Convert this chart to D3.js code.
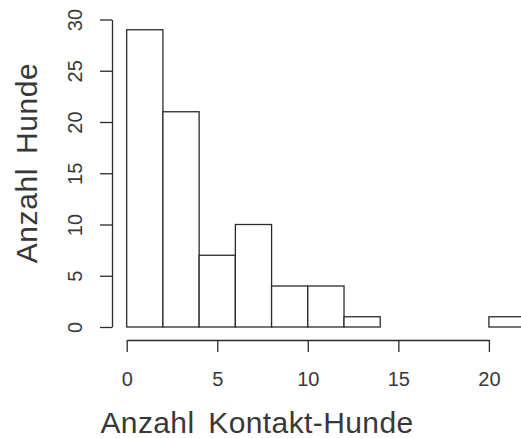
<!DOCTYPE html>
<html>
<head>
<meta charset="utf-8">
<script src="https://cdn.jsdelivr.net/npm/d3@7"></script>
<style>
  html, body { margin: 0; padding: 0; background: #fff; }
  svg { display: block; }
  text { font-family: "Liberation Sans", Arial, sans-serif; fill: #383838; }
</style>
</head>
<body>
<div id="chart"></div>
<script>
// histogram breaks (bin edges) and counts per bin
var breaks = [0, 2, 4, 6, 8, 10, 12, 14, 16, 18, 20, 22];
var counts = [29, 21, 7, 10, 4, 4, 1, 0, 0, 0, 1];
var xTicks = [0, 5, 10, 15, 20];
var yTicks = [0, 5, 10, 15, 20, 25, 30];
var xTitle = 'Anzahl Kontakt-Hunde';
var yTitle = 'Anzahl Hunde';

var _width = 521, _height = 438;
var lineColor = '#2b2b2b';

var svg = d3.select('#chart').append('svg')
  .attr('width', _width)
  .attr('height', _height);

// scales, fitted to the reference plot region
var x = d3.scaleLinear().domain([0, 22]).range([126.7, 126.7 + 22 * 18.11]);
var y = d3.scaleLinear().domain([0, 30]).range([327, 19.5]);

var bins = counts.map(function(c, i) {
  return {x0: breaks[i], x1: breaks[i + 1], n: c};
});

// bars
svg.append('g').selectAll('rect')
  .data(bins)
  .enter().append('rect')
  .attr('x', function(d) { return x(d.x0); })
  .attr('y', function(d) { return y(d.n); })
  .attr('width', function(d) { return x(d.x1) - x(d.x0); })
  .attr('height', function(d) { return y(0) - y(d.n); })
  .style('fill', '#fff')
  .style('stroke', lineColor)
  .style('stroke-width', 1.3);

// x axis only spans the tick range (R style)
var xAxisScale = x.copy().domain([0, 20]).range([x(0), x(20)]);
var gx = svg.append('g')
  .attr('transform', 'translate(0,340)')
  .call(d3.axisBottom(xAxisScale).tickValues(xTicks).tickSize(12).tickSizeOuter(0).tickPadding(0));
gx.selectAll('path, line').style('stroke', lineColor).style('stroke-width', 1.3);
gx.selectAll('text').remove();
gx.selectAll('.tick').append('text')
  .attr('y', 45.5)
  .attr('text-anchor', 'middle')
  .style('font-size', '20px')
  .text(function(d) { return d; });

// y axis
var gy = svg.append('g')
  .attr('transform', 'translate(112,0)')
  .call(d3.axisLeft(y).tickValues(yTicks).tickSize(12).tickSizeOuter(0));
gy.selectAll('path, line').style('stroke', lineColor).style('stroke-width', 1.3);
gy.selectAll('text').remove();
gy.selectAll('.tick').append('text')
  .attr('transform', 'translate(-30.5,0) rotate(-90)')
  .attr('text-anchor', 'middle')
  .style('font-size', '20px')
  .text(function(d) { return d; });

// axis titles
svg.append('text')
  .attr('x', 257)
  .attr('y', 433)
  .attr('text-anchor', 'middle')
  .style('font-size', '30px')
  .style('word-spacing', '5px')
  .style('letter-spacing', '0.4px')
  .text(xTitle);

svg.append('text')
  .attr('transform', 'translate(36.5,163) rotate(-90)')
  .attr('text-anchor', 'middle')
  .style('font-size', '30px')
  .style('word-spacing', '5px')
  .style('letter-spacing', '0.6px')
  .text(yTitle);
</script>
</body>
</html>
